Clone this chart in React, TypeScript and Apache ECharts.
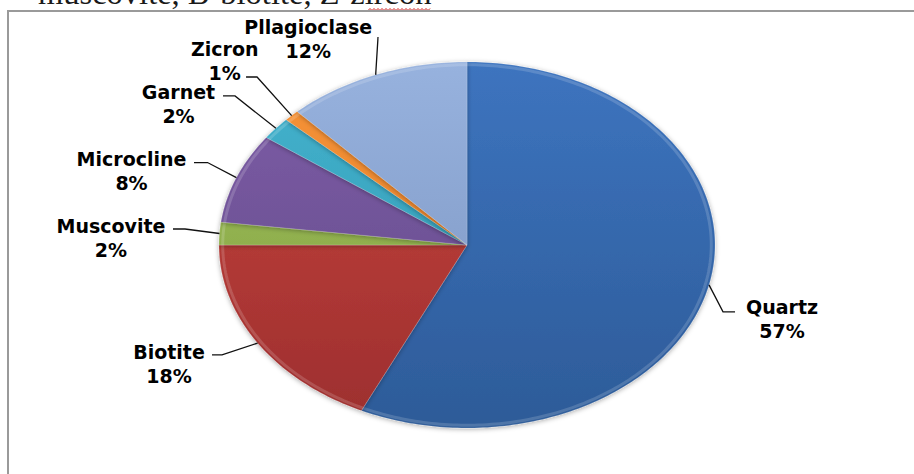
import React, { useEffect, useRef } from "react";
import * as echarts from "echarts";

// ---- data ----
const CATEGORIES = ["Quartz", "Biotite", "Muscovite", "Microcline", "Garnet", "Zicron", "Pllagioclase"];
const PERCENTS = [57, 18, 2, 8, 2, 1, 12];
const CAPTION = "muscovite, B-biotite, Z-zircon";

// ---- styles / layout ----
const PALETTE: [string, string][] = [
  ["#3d74bf", "#2d5b98"],
  ["#c9463f", "#9c2e2e"],
  ["#a2c35c", "#7e9c40"],
  ["#7f5fa8", "#5f4686"],
  ["#45b4cf", "#2c93ad"],
  ["#f7943a", "#e07a20"],
  ["#97b2de", "#7a93bf"],
];
const CX = 467;
const CY = 245;
const RX = 248;
const RY = 183;
// label block centre (t), leader knee (k) and end (e), relative to slice mid-point on the rim
const LABEL_LAYOUT = [
  { t: [73, 34], k: [14, 27], e: [26, 27] },
  { t: [-88.6, 21], k: [-35.6, 11.9], e: [-45.6, 11.9] },
  { t: [-108.5, 4], k: [-34.5, -4.5], e: [-46.5, -4.5] },
  { t: [-104.9, -7.1], k: [-28.9, -15.1], e: [-42.4, -15.1] },
  { t: [-97.4, -24.2], k: [-40.9, -32.4], e: [-52.9, -32.4] },
  { t: [-66.9, -54.1], k: [-34.6, -38.6], e: [-45.6, -38.6] },
  { t: [-67.5, -35.8], k: [2.3, -37.8], e: [2.3, -37.8] },
];
const LABEL_FONT = 'bold 19px "DejaVu Sans"';

function rimPoint(frac: number, s = 1): number[] {
  const a = frac * Math.PI * 2;
  return [CX + RX * s * Math.sin(a), CY - RY * s * Math.cos(a)];
}

export default function App() {
  const ref = useRef<HTMLDivElement>(null);
  useEffect(() => {
    if (!ref.current) return;
    const chart = echarts.init(ref.current, null, { renderer: "svg" });
    const total = PERCENTS.reduce((a, b) => a + b, 0);

    const renderItem = (params: any, api: any) => {
      const i = params.dataIndex;
      const v = api.value(0) as number;
      let start = 0;
      for (let j = 0; j < i; j++) start += PERCENTS[j];
      const f0 = start / total;
      const f1 = (start + v) / total;
      const n = Math.max(2, Math.ceil((f1 - f0) * 360));
      const arc: number[][] = [];
      const inner: number[][] = [];
      for (let k = 0; k <= n; k++) {
        const f = f0 + ((f1 - f0) * k) / n;
        arc.push(rimPoint(f));
        inner.push(rimPoint(f, 0.985));
      }
      const [c0, c1] = PALETTE[i];
      const fill = new echarts.graphic.LinearGradient(
        0, CY - RY, 0, CY + RY,
        [
          { offset: 0, color: c0 },
          { offset: 1, color: c1 },
        ],
        true
      );
      const mid = rimPoint((f0 + f1) / 2);
      const L = LABEL_LAYOUT[i];
      const knee = [mid[0] + L.k[0], mid[1] + L.k[1]];
      const end = [mid[0] + L.e[0], mid[1] + L.e[1]];
      return {
        type: "group",
        children: [
          {
            type: "polygon",
            shape: { points: [[CX, CY], ...arc] },
            style: {
              fill,
              stroke: "rgba(255,255,255,0.15)",
              lineWidth: 1,
              shadowBlur: 5,
              shadowColor: "rgba(0,0,0,0.35)",
              shadowOffsetY: 1,
            },
          },
          {
            type: "polyline",
            shape: { points: inner },
            style: { fill: null, stroke: "rgba(255,255,255,0.16)", lineWidth: 3 },
          },
          {
            type: "polyline",
            shape: { points: [mid, knee, end] },
            style: { fill: null, stroke: "#111", lineWidth: 1.3 },
            z2: 10,
          },
          {
            type: "text",
            x: mid[0] + L.t[0],
            y: mid[1] + L.t[1],
            z2: 10,
            style: {
              text: `${CATEGORIES[i]}\n${v}%`,
              font: LABEL_FONT,
              fill: "#000",
              align: "center",
              verticalAlign: "middle",
              lineHeight: 24,
            },
          },
        ],
      };
    };

    // spell-check squiggle under the last word of the caption
    const squiggle: number[][] = [];
    for (let x = 368, k = 0; x <= 430; x += 2, k++) squiggle.push([x, k % 2 ? 8.5 : 10.5]);

    chart.setOption({
      animation: false,
      backgroundColor: "#ffffff",
      graphic: [
        {
          type: "text",
          x: 38,
          y: -7,
          style: {
            text: CAPTION,
            font: '32.5px "Liberation Serif"',
            fill: "#1a1a1a",
            verticalAlign: "middle",
          },
        },
        {
          type: "polyline",
          shape: { points: squiggle },
          style: { fill: null, stroke: "#d02020", lineWidth: 1 },
        },
        {
          type: "polyline",
          shape: { points: [[8, 474], [8, 11], [914, 11]] },
          style: { fill: null, stroke: "#9a9a9a", lineWidth: 2 },
        },
      ],
      series: [
        {
          type: "custom",
          coordinateSystem: "none",
          renderItem,
          data: PERCENTS.map((v, i) => ({ name: CATEGORIES[i], value: v })),
        },
      ],
    });
    return () => chart.dispose();
  }, []);
  return (
    <div
      ref={ref}
      style={{ position: "absolute", left: 0, top: 0, width: 914, height: 474 }}
    />
  );
}
